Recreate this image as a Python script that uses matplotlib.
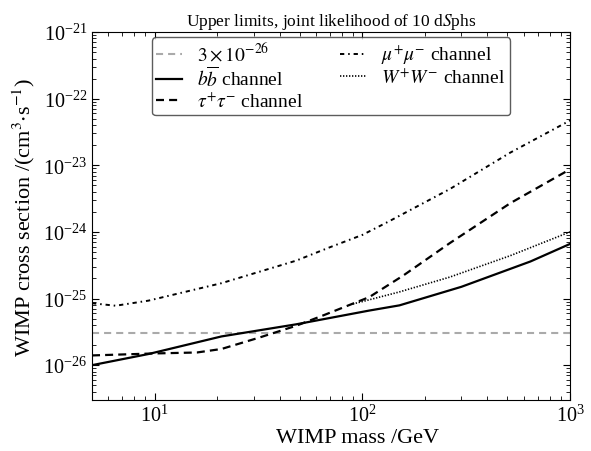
import matplotlib
matplotlib.use("Agg")
import matplotlib.pyplot as plt
import numpy as np

plt.rcParams['font.family'] = ['Liberation Serif', 'DejaVu Serif']
plt.rcParams['mathtext.fontset'] = 'stix'

# Data
ref_level = 3e-26

bb_mass = [5, 9.35, 21, 48, 108, 151, 300, 645, 1000]
bb_sv = [1.0e-26, 1.47e-26, 2.7e-26, 4.1e-26, 6.6e-26, 7.9e-26, 1.5e-25, 3.6e-25, 6.6e-25]

tau_mass = [5, 10, 16, 21, 32, 48, 65, 108, 157, 264, 516, 1000]
tau_sv = [1.4e-26, 1.5e-26, 1.55e-26, 1.75e-26, 2.6e-26, 3.9e-26, 5.6e-26, 1.05e-25, 2.2e-25, 6.8e-25, 2.7e-24, 8.7e-24]

mu_mass = [5, 6.5, 9.35, 21, 48, 70, 100, 135, 264, 516, 1000]
mu_sv = [8.5e-26, 7.8e-26, 9.3e-26, 1.7e-25, 3.7e-25, 5.9e-25, 9.0e-25, 1.45e-24, 4.4e-24, 1.55e-23, 4.7e-23]

ww_mass = [90, 100, 150, 264, 516, 1000]
ww_sv = [8.3e-26, 9.0e-26, 1.25e-25, 2.1e-25, 4.4e-25, 1.0e-24]

fig = plt.figure(figsize=(5.91, 4.52), dpi=100)
ax = fig.add_axes([0.1557, 0.1128, 0.8088, 0.8142])

ax.axhline(ref_level, color='#aaaaaa', ls=(0, (3.4, 2.4)), lw=1.5, label=r'$3\times10^{-26}$')
ax.plot(bb_mass, bb_sv, color='black', lw=1.6, ls='-', label=r'$b\overline{b}$ channel')
ax.plot(tau_mass, tau_sv, color='black', lw=1.6, ls=(0, (3.6, 2.3)), label=r'$\tau^{+}\tau^{-}$ channel')
ax.plot(mu_mass, mu_sv, color='black', lw=1.4, ls=(0, (2.2, 2.0, 0.8, 2.0)), label=r'$\mu^{+}\mu^{-}$ channel')
ax.plot(ww_mass, ww_sv, color='black', lw=1.2, ls=(0, (0.8, 1.0)), label=r'$W^{+}W^{-}$ channel')

ax.set_xscale('log')
ax.set_yscale('log')
ax.set_xlim(5, 1000)
ax.set_ylim(3e-27, 1e-21)

ax.tick_params(which='both', direction='in', top=True, right=True, labelsize=14.5)
ax.tick_params(which='major', length=5)
ax.tick_params(which='minor', length=3)

ax.set_xlabel('WIMP mass /GeV', fontsize=16)
ax.xaxis.set_label_coords(0.556, -0.075)
ax.set_ylabel(r'WIMP cross section /(cm$^{3}$$\cdot$s$^{-1}$)', fontsize=16)
ax.set_title(r'Upper limits, joint likelihood of 10 d$S$phs', fontsize=12.5, pad=5)

leg = ax.legend(loc='upper center', ncol=2, fontsize=14, frameon=True, fancybox=True,
                edgecolor='#333333', handlelength=1.3, handletextpad=0.8, labelspacing=0.05,
                columnspacing=1.9, borderpad=0.25, borderaxespad=0,
                bbox_to_anchor=(0.5, 0.986))
leg.get_frame().set_linewidth(1.0)

fig.savefig('out.png', dpi=100)
